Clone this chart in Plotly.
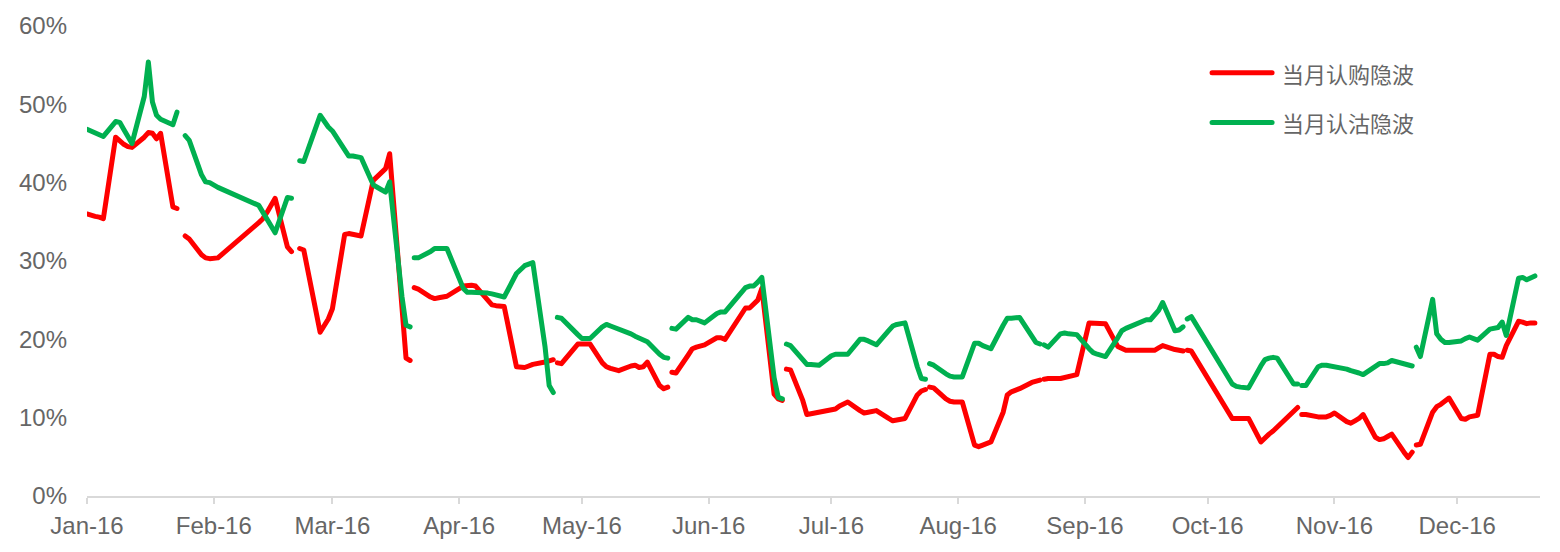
import plotly.graph_objects as go

# ---------------- data (None marks the break between monthly contracts) ----------------
trade_dates = [
    # Jan contract
    "2016-01-04","2016-01-05","2016-01-06","2016-01-07","2016-01-08","2016-01-11","2016-01-12","2016-01-13",
    "2016-01-14","2016-01-15","2016-01-18","2016-01-19","2016-01-20","2016-01-21","2016-01-22","2016-01-25",
    "2016-01-26", None,
    # Feb contract
    "2016-01-28","2016-01-29","2016-02-01","2016-02-02","2016-02-03","2016-02-04","2016-02-05","2016-02-15",
    "2016-02-16","2016-02-17","2016-02-18","2016-02-19","2016-02-22","2016-02-23", None,
    # Mar contract
    "2016-02-25","2016-02-26","2016-03-01","2016-03-02","2016-03-03","2016-03-04","2016-03-07","2016-03-08",
    "2016-03-09","2016-03-10","2016-03-11","2016-03-14","2016-03-15","2016-03-16","2016-03-17","2016-03-18",
    "2016-03-21","2016-03-22","2016-03-23", None,
    # Apr contract
    "2016-03-24","2016-03-25","2016-03-28","2016-03-29","2016-03-30","2016-03-31","2016-04-01","2016-04-05",
    "2016-04-06","2016-04-07","2016-04-08","2016-04-11","2016-04-12","2016-04-13","2016-04-14","2016-04-15",
    "2016-04-18","2016-04-19","2016-04-20","2016-04-21","2016-04-22","2016-04-25","2016-04-26","2016-04-27", None,
    # May contract
    "2016-04-28","2016-04-29","2016-05-03","2016-05-04","2016-05-05","2016-05-06","2016-05-09","2016-05-10",
    "2016-05-11","2016-05-12","2016-05-13","2016-05-16","2016-05-17","2016-05-18","2016-05-19","2016-05-20",
    "2016-05-23","2016-05-24","2016-05-25", None,
    # Jun contract
    "2016-05-26","2016-05-27","2016-05-30","2016-05-31","2016-06-01","2016-06-02","2016-06-03","2016-06-06",
    "2016-06-07","2016-06-08","2016-06-13","2016-06-14","2016-06-15","2016-06-16","2016-06-17","2016-06-20",
    "2016-06-21","2016-06-22", None,
    # Jul contract
    "2016-06-23","2016-06-24","2016-06-27","2016-06-28","2016-06-29","2016-06-30","2016-07-01","2016-07-04",
    "2016-07-05","2016-07-06","2016-07-07","2016-07-08","2016-07-11","2016-07-12","2016-07-13","2016-07-14",
    "2016-07-15","2016-07-18","2016-07-19","2016-07-20","2016-07-21","2016-07-22","2016-07-25","2016-07-26",
    "2016-07-27", None,
    # Aug contract
    "2016-07-28","2016-07-29","2016-08-01","2016-08-02","2016-08-03","2016-08-04","2016-08-05","2016-08-08",
    "2016-08-09","2016-08-10","2016-08-11","2016-08-12","2016-08-15","2016-08-16","2016-08-17","2016-08-18",
    "2016-08-19","2016-08-22","2016-08-23","2016-08-24", None,
    # Sep contract
    "2016-08-25","2016-08-26","2016-08-29","2016-08-30","2016-08-31","2016-09-01","2016-09-02","2016-09-05",
    "2016-09-06","2016-09-07","2016-09-08","2016-09-09","2016-09-12","2016-09-13","2016-09-14","2016-09-19",
    "2016-09-20","2016-09-21","2016-09-22","2016-09-23","2016-09-26","2016-09-27","2016-09-28", None,
    # Oct contract
    "2016-09-29","2016-09-30","2016-10-10","2016-10-11","2016-10-12","2016-10-13","2016-10-14","2016-10-17",
    "2016-10-18","2016-10-19","2016-10-20","2016-10-21","2016-10-24","2016-10-25","2016-10-26", None,
    # Nov contract
    "2016-10-27","2016-10-28","2016-10-31","2016-11-01","2016-11-02","2016-11-03","2016-11-04","2016-11-07",
    "2016-11-08","2016-11-09","2016-11-10","2016-11-11","2016-11-14","2016-11-15","2016-11-16","2016-11-17",
    "2016-11-18","2016-11-21","2016-11-22","2016-11-23", None,
    # Dec contract
    "2016-11-24","2016-11-25","2016-11-28","2016-11-29","2016-11-30","2016-12-01","2016-12-02","2016-12-05",
    "2016-12-06","2016-12-07","2016-12-08","2016-12-09","2016-12-12","2016-12-13","2016-12-14","2016-12-15",
    "2016-12-16","2016-12-19","2016-12-20","2016-12-21","2016-12-22","2016-12-23",
]

# 当月认购隐波 (%)
call_iv = [
    36.0,35.8,35.7,35.6,35.4,45.8,45.3,44.9,44.6,44.5,45.8,46.4,46.3,45.6,46.3,36.9,36.7, None,
    33.2,32.8,30.8,30.4,30.3,30.3,30.4,34.9,35.4,36.2,37.2,38.0,31.8,31.2, None,
    31.6,31.4,20.9,21.8,22.6,23.9,33.4,33.5,33.4,33.4,33.2,40.3,40.8,41.2,41.8,43.7,23.5,17.6,17.3, None,
    26.6,26.4,25.4,25.2,25.3,25.4,25.5,26.8,26.9,26.9,26.8,24.9,24.4,24.3,24.2,24.2,16.5,16.4,16.4,16.6,16.8,17.1,17.3,17.4, None,
    17.0,16.9,19.4,19.4,19.4,19.4,17.0,16.5,16.3,16.2,16.0,16.6,16.7,16.4,16.5,17.1,14.1,13.7,13.9, None,
    15.8,15.7,18.0,18.8,19.0,19.1,19.3,20.2,20.2,20.0,24.0,24.0,24.5,25.0,26.5,13.0,12.4,12.2, None,
    16.2,16.1,12.2,10.4,10.5,10.6,10.7,10.9,11.1,11.5,11.8,12.0,10.9,10.6,10.7,10.8,10.9,9.9,9.6,9.7,9.8,9.9,12.9,13.4,13.6, None,
    13.9,13.8,12.4,12.1,12.0,12.0,12.0,6.5,6.3,6.5,6.7,6.9,10.7,12.9,13.3,13.5,13.7,14.5,14.7,14.8, None,
    14.9,15.0,15.0,15.1,15.2,15.3,15.5,22.1,22.1,22.1,22.1,22.0,19.1,18.8,18.6,18.6,18.6,18.6,18.9,19.2,18.7,18.6,18.5, None,
    18.6,18.5,9.9,9.9,9.9,9.9,9.9,6.9,7.5,7.9,8.3,8.8,10.4,10.9,11.3, None,
    10.4,10.4,10.1,10.1,10.1,10.3,10.6,9.5,9.3,9.6,9.9,10.4,7.5,7.2,7.3,7.6,7.9,5.6,4.9,5.6, None,
    6.5,6.6,10.7,11.4,11.7,12.1,12.5,9.9,9.8,10.1,10.2,10.3,18.1,18.1,17.8,17.7,19.2,22.3,22.2,22.0,22.1,22.1,
]

# 当月认沽隐波 (%)
put_iv = [
    46.8,46.6,46.3,46.1,45.9,47.8,47.7,46.8,45.9,45.0,51.0,55.4,50.3,48.6,48.1,47.4,49.0, None,
    46.0,45.4,41.0,40.1,40.0,39.7,39.4,37.1,36.2,35.1,34.5,33.6,38.1,38.0, None,
    42.8,42.7,48.6,47.8,47.1,46.6,44.0,43.4,43.4,43.3,43.2,39.7,39.3,39.1,38.8,40.1,25.5,21.8,21.6, None,
    30.4,30.4,31.2,31.6,31.6,31.6,31.6,26.5,26.0,26.0,26.0,25.9,25.8,25.7,25.5,25.4,28.4,28.9,29.4,29.6,29.8,19.0,14.1,13.2, None,
    22.8,22.7,20.6,20.1,20.1,20.1,21.6,21.9,21.7,21.5,21.4,20.7,20.4,20.2,19.9,19.7,18.1,17.7,17.6, None,
    21.4,21.3,22.8,22.5,22.5,22.3,22.1,23.3,23.5,23.5,26.6,26.8,26.8,27.3,27.9,15.1,12.6,12.4, None,
    19.4,19.2,17.4,16.8,16.8,16.7,16.7,17.9,18.1,18.1,18.1,18.1,20.0,20.0,19.8,19.5,19.3,21.1,21.7,21.9,22.0,22.1,16.5,15.0,14.9, None,
    16.9,16.7,15.6,15.3,15.2,15.2,15.2,19.5,19.5,19.2,19.0,18.8,21.8,22.7,22.7,22.7,22.8,20.4,19.6,19.4, None,
    19.3,19.0,20.7,20.8,20.7,20.6,20.6,18.8,18.3,18.1,18.0,17.8,20.2,21.1,21.4,22.5,22.5,23.0,23.7,24.7,21.1,21.2,21.6, None,
    22.6,22.9,14.3,14.0,13.9,13.9,13.8,16.6,17.4,17.6,17.7,17.6,15.0,14.3,14.3, None,
    14.1,14.1,16.5,16.7,16.7,16.6,16.6,16.2,16.0,15.9,15.7,15.5,16.6,16.9,16.9,17.0,17.3,16.8,16.6,16.6, None,
    19.0,17.8,25.1,20.7,20.0,19.6,19.6,19.8,20.1,20.3,20.1,19.9,21.3,21.4,21.5,22.2,20.5,27.8,27.9,27.6,27.8,28.1,
]

series_names = ["当月认购隐波", "当月认沽隐波"]
series_colors = ["#FF0000", "#00B050"]

month_ticks = ["2016-%02d-04" % m for m in range(1, 13)]
month_labels = ["Jan-16", "Feb-16", "Mar-16", "Apr-16", "May-16", "Jun-16",
                "Jul-16", "Aug-16", "Sep-16", "Oct-16", "Nov-16", "Dec-16"]
y_ticks = [0, 10, 20, 30, 40, 50, 60]
y_labels = ["0%", "10%", "20%", "30%", "40%", "50%", "60%"]

# ---------------- figure ----------------
fig = go.Figure()
for name, vals, col in zip(series_names, [call_iv, put_iv], series_colors):
    fig.add_trace(go.Scatter(
        x=trade_dates, y=vals, name=name, mode="lines",
        line=dict(color=col, width=5), connectgaps=False,
        showlegend=False, hoverinfo="x+y+name",
    ))

tick_font = dict(family="Liberation Sans, Arial, sans-serif", size=24, color="#666666")

fig.update_layout(
    width=1560, height=552,
    margin=dict(l=87, r=20, t=23, b=56),
    plot_bgcolor="white", paper_bgcolor="white",
    showlegend=False,
    xaxis=dict(
        type="date", range=["2016-01-04", "2016-12-24 06:00"],
        tickmode="array", tickvals=month_ticks, ticktext=month_labels,
        showgrid=False, zeroline=False,
        showline=True, linecolor="#d9d9d9", linewidth=2,
        ticks="outside", ticklen=6, tickcolor="#d9d9d9", tickwidth=2,
        tickfont=tick_font, ticklabelstandoff=1,
    ),
    yaxis=dict(
        range=[0, 60], tickmode="array", tickvals=y_ticks, ticktext=y_labels,
        showgrid=False, zeroline=False, showline=False,
        tickfont=tick_font, ticklabelstandoff=19,
    ),
)

# legend drawn as line samples + text in the plot's upper right
legend_rows = [0.9006, 0.7949]
for name, col, yy in zip(series_names, series_colors, legend_rows):
    fig.add_shape(type="line", xref="x domain", yref="y domain",
                  x0=0.7743, x1=0.8156, y0=yy, y1=yy,
                  line=dict(color=col, width=5))
    fig.add_annotation(xref="x domain", yref="y domain", x=0.8211, y=yy,
                       text=name, showarrow=False, xanchor="left", yanchor="middle",
                       font=dict(family="Noto Sans CJK SC", size=22, color="#666666"))

post = (
    "document.body.style.margin='0';document.body.style.overflow='hidden';"
    "document.querySelectorAll('.scatterlayer path.js-line, .shapelayer path').forEach(function(p){"
    "p.style.strokeLinecap='round';p.style.strokeLinejoin='round';});"
)
fig.write_html("out.html", config={"displayModeBar": False}, post_script=post)
